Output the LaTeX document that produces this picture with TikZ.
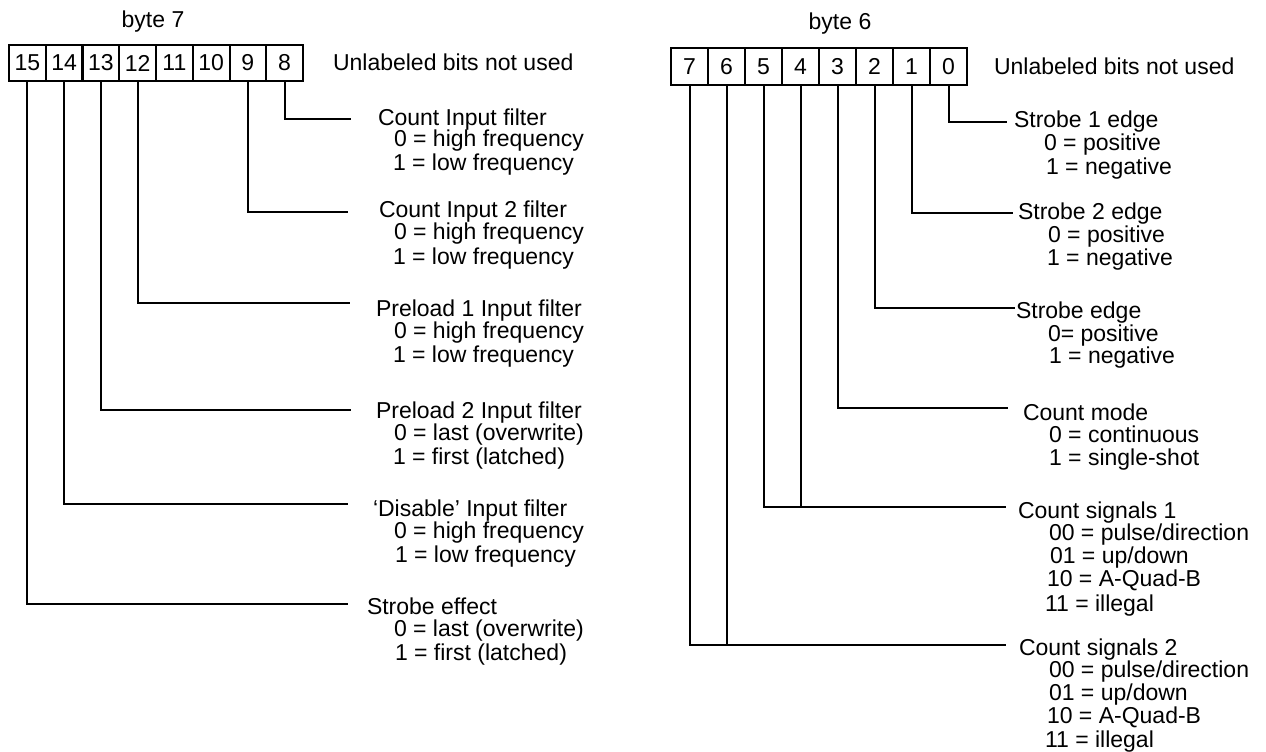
\documentclass[tikz,border=0pt]{standalone}
\usepackage{fontspec}
\setmainfont{Liberation Sans}
\begin{document}
\begin{tikzpicture}[x=0.75pt,y=-0.75pt,line width=1.5pt,
  every node/.style={font=\fontsize{17.25pt}{20pt}\selectfont},
  lcell/.style={draw,rectangle,inner sep=0pt,minimum width=27.56pt,minimum height=27pt,line width=1.5pt},
  rcell/.style={draw,rectangle,inner sep=0pt,minimum width=27.75pt,minimum height=27.75pt,line width=1.5pt},
  txt/.style={anchor=base west,inner sep=0pt},
  conn/.style={line width=1.5pt}]
\useasboundingbox (0,0) rectangle (1266,752);
% ---------- byte 7 ----------
\node (byte7) at (153,22) {byte 7};
\foreach \n [count=\i from 0] in {15,14,13,12,11,10,9,8}
  \node[lcell] (b\n) at ({9+18.375+36.75*\i},63) {\n};
\node[txt] (un7) at (332,71) {Unlabeled bits not used};

\node[txt] (t8a) at (377,126) {Count Input filter};
\node[txt] (t8b) at (393,147) {0 = high frequency};
\node[txt] (t8c) at (392,171) {1 = low frequency};

\node[txt] (t9a) at (378,218) {Count Input 2 filter};
\node[txt] (t9b) at (393,240) {0 = high frequency};
\node[txt] (t9c) at (392,264) {1 = low frequency};

\node[txt] (t12a) at (375,316) {Preload 1 Input filter};
\node[txt] (t12b) at (393,338) {0 = high frequency};
\node[txt] (t12c) at (392,362) {1 = low frequency};

\node[txt] (t13a) at (375,418) {Preload 2 Input filter};
\node[txt] (t13b) at (393,440) {0 = last (overwrite)};
\node[txt] (t13c) at (392,464) {1 = first (latched)};

\node[txt] (t14a) at (372,516) {‘Disable’ Input filter};
\node[txt] (t14b) at (393,538) {0 = high frequency};
\node[txt] (t14c) at (394,562) {1 = low frequency};

\node[txt] (t15a) at (366,614) {Strobe effect};
\node[txt] (t15b) at (393,636) {0 = last (overwrite)};
\node[txt] (t15c) at (394,660) {1 = first (latched)};

\coordinate (e8) at (351,119);
\coordinate (e9) at (348,212);
\coordinate (e12) at (350,303);
\coordinate (e13) at (351,410);
\coordinate (e14) at (348,504);
\coordinate (e15) at (348,604);
\draw[conn] (b8.south) |- (e8);
\draw[conn] (b9.south) |- (e9);
\draw[conn] (b12.south) |- (e12);
\draw[conn] (b13.south) |- (e13);
\draw[conn] (b14.south) |- (e14);
\draw[conn] (b15.south) |- (e15);

% ---------- byte 6 ----------
\node (byte6) at (840,24) {byte 6};
\foreach \n [count=\i from 0] in {7,6,5,4,3,2,1,0}
  \node[rcell] (c\n) at ({671+18.5+37*\i},66.5) {\n};
\node[txt] (un6) at (993,75) {Unlabeled bits not used};

\node[txt] (s0a) at (1013,128) {Strobe 1 edge};
\node[txt] (s0b) at (1043,151) {0 = positive};
\node[txt] (s0c) at (1045,175) {1 = negative};

\node[txt] (s1a) at (1017,220) {Strobe 2 edge};
\node[txt] (s1b) at (1047,243) {0 = positive};
\node[txt] (s1c) at (1046,266) {1 = negative};

\node[txt] (s2a) at (1015,318) {Strobe edge};
\node[txt] (s2b) at (1047,341) {0= positive};
\node[txt] (s2c) at (1048,363) {1 = negative};

\node[txt] (s3a) at (1022,420) {Count mode};
\node[txt] (s3b) at (1048,442) {0 = continuous};
\node[txt] (s3c) at (1048,465) {1 = single-shot};

\node[txt] (s45a) at (1017,518) {Count signals 1};
\node[txt] (s45b) at (1048,540) {00 = pulse/direction};
\node[txt] (s45c) at (1049,563) {01 = up/down};
\node[txt] (s45d) at (1046,586) {10 = A-Quad-B};
\node[txt] (s45e) at (1044,611) {11 = illegal};

\node[txt] (s67a) at (1018,655) {Count signals 2};
\node[txt] (s67b) at (1048,677) {00 = pulse/direction};
\node[txt] (s67c) at (1048,700) {01 = up/down};
\node[txt] (s67d) at (1046,723) {10 = A-Quad-B};
\node[txt] (s67e) at (1044,747) {11 = illegal};

\coordinate (f0) at (1007,122);
\coordinate (f1) at (1013,213);
\coordinate (f2) at (1015,308);
\coordinate (f3) at (1008,408);
\coordinate (f45) at (1006,507);
\coordinate (f67) at (1006,645);
\draw[conn] (c0.south) |- (f0);
\draw[conn] (c1.south) |- (f1);
\draw[conn] (c2.south) |- (f2);
\draw[conn] (c3.south) |- (f3);
\draw[conn] (c5.south) |- (f45);
\draw[conn] (c4.south) -- (c4.south |- f45);
\draw[conn] (c7.south) |- (f67);
\draw[conn] (c6.south) -- (c6.south |- f67);
\end{tikzpicture}
\end{document}
